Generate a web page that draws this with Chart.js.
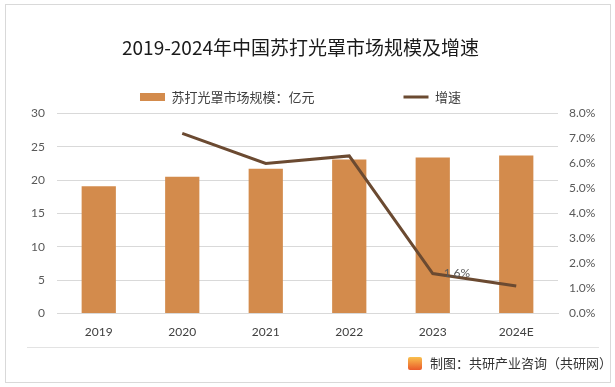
<!DOCTYPE html>
<html>
  <head>
    <meta charset="utf-8" />
    <title>苏打光罩市场规模及增速</title>
    <style>
      body { margin: 0; background: #fff; }
      .wrap { position: relative; width: 615px; height: 387px; overflow: hidden; }
      .frame { position: absolute; left: 5px; top: 4px; width: 604px; height: 377px; border: 1px solid #d9d9d9; }
      .sep { position: absolute; left: 27px; top: 347px; width: 572px; height: 1px; background: #e3e3e3; }
      .source { position: absolute; left: 408px; top: 353px; font: 13px "Noto Sans CJK SC", sans-serif; color: #333; white-space: nowrap; }
      .logo { display: inline-block; width: 14px; height: 13px; margin-right: 8px; vertical-align: -2px;
              background: linear-gradient(#f9c04d, #ea5a2a); border-radius: 2px; }
      canvas { position: absolute; left: 0; top: 0; }
    </style>
  </head>
  <body>
    <div class="wrap">
      <div class="frame"></div>
      <canvas id="myChart" width="615" height="387"></canvas>
      <div class="sep"></div>
      <div class="source"><span class="logo"></span>制图：共研产业咨询（共研网）</div>
    </div>

    <script src="https://cdn.jsdelivr.net/npm/chart.js@4/dist/chart.umd.min.js"></script>
    <script>
      // data
      const years = ["2019", "2020", "2021", "2022", "2023", "2024E"];
      const marketSize = [19.1, 20.5, 21.7, 23.1, 23.4, 23.7]; // 亿元
      const growth = [null, 7.2, 6.0, 6.3, 1.6, 1.1]; // %
      const labelledPoints = [4]; // only 2023 carries a label

      const tickFont = { family: "Lato, 'Noto Sans CJK SC', sans-serif", size: 12 };

      // draws the "1.6%" label next to the line point
      const pointLabels = {
        id: "pointLabels",
        afterDatasetsDraw(chart) {
          const meta = chart.getDatasetMeta(1);
          const ctx = chart.ctx;
          ctx.save();
          ctx.font = "12px Lato, 'Noto Sans CJK SC', sans-serif";
          ctx.fillStyle = "#595959";
          ctx.textAlign = "left";
          ctx.textBaseline = "middle";
          labelledPoints.forEach((i) => {
            const pt = meta.data[i];
            ctx.fillText(growth[i].toFixed(1) + "%", pt.x + 11, pt.y);
          });
          ctx.restore();
        },
      };

      const ctx = document.getElementById("myChart").getContext("2d");
      const myChart = new Chart(ctx, {
        type: "bar",
        data: {
          labels: years,
          datasets: [
            {
              label: "苏打光罩市场规模：亿元",
              data: marketSize,
              backgroundColor: "#d38b4c",
              borderWidth: 0,
              barPercentage: 0.41,
              categoryPercentage: 1,
              pointStyle: "rect",
              yAxisID: "y",
              order: 2,
            },
            {
              type: "line",
              label: "增速",
              data: growth,
              borderColor: "#6b4a31",
              backgroundColor: "#6b4a31",
              borderWidth: 3,
              pointRadius: 0,
              pointStyle: "line",
              tension: 0,
              yAxisID: "y1",
              order: 1,
            },
          ],
        },
        options: {
          responsive: false,
          animation: false,
          layout: { padding: { top: 0, left: 0, right: 14, bottom: 37 } },
          plugins: {
            title: {
              display: true,
              text: "2019-2024年中国苏打光罩市场规模及增速",
              color: "#1a1a1a",
              font: { family: "'Noto Sans CJK SC', sans-serif", size: 19, weight: "normal" },
              padding: { top: 36.6, bottom: -58 },
            },
            legend: {
              position: "top",
              labels: {
                usePointStyle: true,
                pointStyleWidth: 25,
                boxHeight: 8,
                padding: 89,
                color: "#404040",
                font: { family: "'Noto Sans CJK SC', sans-serif", size: 13 },
                sort: (a, b) => a.datasetIndex - b.datasetIndex,
              },
            },
            tooltip: { enabled: false },
          },
          scales: {
            x: {
              grid: { display: false, drawTicks: false },
              border: { display: true, color: "#d9d9d9" },
              ticks: { color: "#404040", font: tickFont, padding: 11 },
            },
            y: {
              position: "left",
              min: 0,
              max: 30,
              ticks: { stepSize: 5, color: "#595959", font: tickFont, padding: 12 },
              grid: { color: "#d9d9d9", drawTicks: false },
              border: { display: false },
              afterFit(scale) { scale.width = 57; },
            },
            y1: {
              position: "right",
              min: 0,
              max: 8,
              ticks: {
                stepSize: 1,
                color: "#595959",
                font: tickFont,
                padding: 11,
                callback: (v) => v.toFixed(1) + "%",
              },
              grid: { drawOnChartArea: false, drawTicks: false },
              border: { display: false },
              afterFit(scale) { scale.width = 43; },
            },
          },
        },
        plugins: [pointLabels],
      });
    </script>
  </body>
</html>
